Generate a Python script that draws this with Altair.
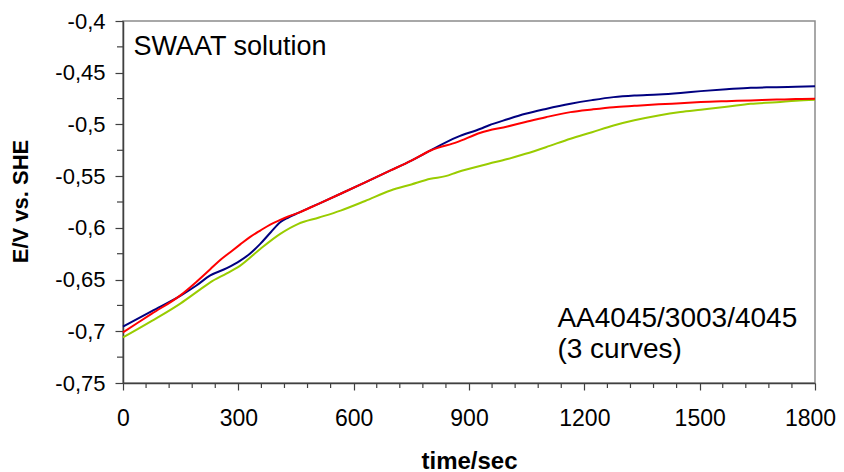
import altair as alt
import pandas as pd

# ---- data ----
series_names = ["green", "blue", "red"]
series_colors = ["#99CC00", "#000080", "#FF0000"]

t_green = [0, 75, 150, 201, 227, 270, 305, 357, 409, 456, 510, 566, 630, 696, 750, 800, 839, 869, 951, 1000, 1047, 1100, 1164, 1220, 1276, 1330, 1393, 1450, 1503, 1570, 1633, 1700, 1750, 1800]
v_green = [-0.706, -0.690, -0.673, -0.6595, -0.6527, -0.6440, -0.6365, -0.6204, -0.6058, -0.5961, -0.5900, -0.5833, -0.5740, -0.5639, -0.5580, -0.5526, -0.5500, -0.5462, -0.5380, -0.5335, -0.5284, -0.5220, -0.5138, -0.5075, -0.5010, -0.4960, -0.4913, -0.4880, -0.4858, -0.4830, -0.4800, -0.4785, -0.4770, -0.4761]

t_blue = [0, 75, 150, 190, 227, 270, 305, 330, 357, 385, 409, 430, 456, 510, 566, 630, 696, 750, 800, 869, 930, 951, 1000, 1047, 1100, 1164, 1220, 1276, 1330, 1393, 1450, 1503, 1570, 1633, 1700, 1750, 1800]
v_blue = [-0.6955, -0.6805, -0.6655, -0.6560, -0.6460, -0.6390, -0.6317, -0.6250, -0.6155, -0.6040, -0.5946, -0.5900, -0.5855, -0.5765, -0.5670, -0.5560, -0.5445, -0.5350, -0.5250, -0.5123, -0.5042, -0.5010, -0.4950, -0.4897, -0.4850, -0.4800, -0.4765, -0.4736, -0.4720, -0.4710, -0.4695, -0.4678, -0.4660, -0.4645, -0.4640, -0.4635, -0.4632]

t_red = [0, 75, 150, 190, 227, 250, 279, 305, 330, 357, 383, 409, 430, 456, 510, 566, 630, 696, 750, 800, 869, 930, 1000, 1047, 1100, 1164, 1220, 1276, 1330, 1393, 1450, 1503, 1570, 1633, 1700, 1750, 1800]
v_red = [-0.701, -0.6830, -0.6650, -0.6525, -0.6400, -0.6320, -0.6235, -0.6160, -0.6090, -0.6026, -0.5968, -0.5923, -0.5890, -0.5855, -0.5765, -0.5670, -0.5560, -0.5445, -0.5350, -0.5252, -0.5171, -0.5080, -0.5020, -0.4977, -0.4930, -0.4881, -0.4855, -0.4833, -0.4820, -0.4806, -0.4795, -0.4784, -0.4775, -0.4768, -0.4760, -0.4755, -0.4751]

x_major = [0, 300, 600, 900, 1200, 1500, 1800]
x_minor = [t for t in range(60, 1800, 60) if t % 300 != 0]
y_major = [-0.75, -0.7, -0.65, -0.6, -0.55, -0.5, -0.45, -0.4]
y_minor = [-0.725, -0.675, -0.625, -0.575, -0.525, -0.475, -0.425]

note_text = ["SWAAT solution", "AA4045/3003/4045", "(3 curves)"]
note_t = [27, 1130, 1130]
note_v = [-0.4255, -0.6885, -0.7185]
note_size = [27, 28, 28]

# ---- build tables ----
rows = []
for name, ts, vs in [("green", t_green, v_green), ("blue", t_blue, v_blue), ("red", t_red, v_red)]:
    for t, v in zip(ts, vs):
        rows.append({"series": name, "t": t, "v": v})
df = pd.DataFrame(rows)
notes = pd.DataFrame({"text": note_text, "t": note_t, "v": note_v, "size": note_size})
xminor_df = pd.DataFrame({"t": x_minor})
yminor_df = pd.DataFrame({"v": y_minor})

FONT = "Liberation Sans"
AXC = "#404040"
W, H = 692, 362
x_scale = alt.Scale(domain=[0, 1800], nice=False, zero=False)
y_scale = alt.Scale(domain=[-0.75, -0.4], nice=False, zero=False)

x_axis = alt.Axis(
    values=x_major,
    format="d",
    tickSize=7,
    title="time/sec",
    titleFontWeight="bold",
    titleFontSize=24,
    titleX=W / 2, titleY=85, titleBaseline="alphabetic", titleAlign="center",
    labelFontSize=23,
    labelPadding=17,
    labelOffset={"condition": {"test": "datum.value === 1800", "value": -5}, "value": 0},
    labelFlush=False,
    labelOverlap=False,
)
y_axis = alt.Axis(
    values=y_major,
    labelExpr="(datum.value < 0 ? '-' : '') + replace(format(abs(datum.value), '.2~f'), '.', ',')",
    tickSize=8,
    title="E/V vs. SHE",
    titleFontWeight="bold",
    titleFontSize=22,
    titleX=-103, titleY=H / 2 - 1, titleAngle=270, titleBaseline="middle", titleAlign="center",
    labelFontSize=22,
    labelPadding=10,
    labelFlush=False,
    labelOverlap=False,
)

lines = alt.Chart(df).mark_line(strokeWidth=2, interpolate="monotone").encode(
    x=alt.X("t:Q", scale=x_scale, axis=x_axis),
    y=alt.Y("v:Q", scale=y_scale, axis=y_axis),
    color=alt.Color("series:N", scale=alt.Scale(domain=series_names, range=series_colors), legend=None),
)

xminor = alt.Chart(xminor_df).mark_rule(color=AXC, strokeWidth=1.2).encode(
    x=alt.X("t:Q", scale=x_scale, axis=x_axis),
    y=alt.value(H), y2=alt.value(H + 5),
)
yminor = alt.Chart(yminor_df).mark_rule(color=AXC, strokeWidth=1.2).encode(
    y=alt.Y("v:Q", scale=y_scale, axis=y_axis),
    x=alt.value(-6), x2=alt.value(0),
)

text = alt.Chart(notes).mark_text(align="left", baseline="middle", font=FONT, color="black").encode(
    x=alt.X("t:Q", scale=x_scale, axis=x_axis),
    y=alt.Y("v:Q", scale=y_scale, axis=y_axis),
    text="text:N",
    size=alt.Size("size:Q", scale=None, legend=None),
)

chart = alt.layer(lines, xminor, yminor, text).properties(
    width=W,
    height=H,
    autosize=alt.AutoSizeParams(type="none"),
    padding={"left": 115, "top": 13, "right": 21, "bottom": 89},
).configure_axis(
    labelFont=FONT, labelColor="black",
    titleFont=FONT, titleColor="black",
    domainColor=AXC, domainWidth=1.5, tickColor=AXC, tickWidth=1.2,
    grid=False,
).configure_view(stroke="#8c8c8c", strokeWidth=1.5)

chart.save("out.html", embed_options={"renderer": "svg", "actions": False})
